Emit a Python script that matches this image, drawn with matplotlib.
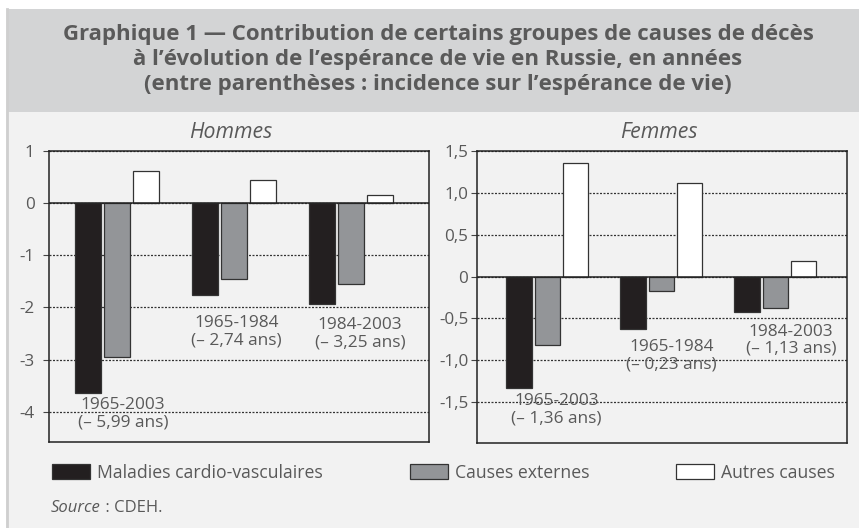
import matplotlib.pyplot as plt
from matplotlib.patches import Rectangle, Patch
from matplotlib.lines import Line2D

# --- données ---
causes = ['Maladies cardio-vasculaires', 'Causes externes', 'Autres causes']
periodes = ['1965-2003', '1965-1984', '1984-2003']

hommes_cardio = [-3.64, -1.76, -1.94]
hommes_externes = [-2.94, -1.45, -1.545]
hommes_autres = [0.606, 0.445, 0.158]
hommes_totaux = ['(– 5,99 ans)', '(– 2,74 ans)', '(– 3,25 ans)']

femmes_cardio = [-1.326, -0.63, -0.423]
femmes_externes = [-0.82, -0.173, -0.376]
femmes_autres = [1.35, 1.118, 0.185]
femmes_totaux = ['(– 1,36 ans)', '(– 0,23 ans)', '(– 1,13 ans)']

hommes_ticks = [1, 0, -1, -2, -3, -4]
hommes_ticklabels = ['1', '0', '-1', '-2', '-3', '-4']
femmes_ticks = [1.5, 1.0, 0.5, 0, -0.5, -1.0, -1.5]
femmes_ticklabels = ['1,5', '1,0', '0,5', '0', '-0,5', '-1,0', '-1,5']

couleurs = ['#231f20', '#939598', '#ffffff']
texte = '#595959'

W, H = 859, 528
plt.rcParams['font.family'] = ['Open Sans', 'DejaVu Sans']

fig = plt.figure(figsize=(W / 100, H / 100), dpi=100)
fig.patch.set_facecolor('white')

# fond du cadre et bandeau du titre
fig.patches.append(Rectangle((6 / W, 0), 1, 1 - 9 / H, transform=fig.transFigure,
                             facecolor='#f2f2f2', edgecolor='none', zorder=-10))
fig.patches.append(Rectangle((8 / W, 1 - 111.7 / H), 1, (111.7 - 9) / H, transform=fig.transFigure,
                             facecolor='#d3d4d5', edgecolor='none', zorder=-9))
fig.lines.append(Line2D([7 / W, 7 / W], [0, 1 - 9 / H], transform=fig.transFigure,
                        color='#cfcfcf', lw=2, zorder=-8))

fig.text(438 / W, 1 - 59.5 / H,
         'Graphique 1 — Contribution de certains groupes de causes de décès\n'
         'à l’évolution de l’espérance de vie en Russie, en années\n'
         '(entre parenthèses : incidence sur l’espérance de vie)',
         ha='center', va='center', fontsize=16, fontweight='bold', color='#5a5a5a',
         linespacing=1.24)


def panneau(ax, cardio, externes, autres, totaux, ticks, ticklabels, ylim, xlim,
            pos_labels, pad):
    x = list(range(len(periodes)))
    w = 0.222
    dx = 0.248
    for serie, col, k in zip([cardio, externes, autres], couleurs, [-1, 0, 1]):
        ax.bar([i + k * dx for i in x], serie, width=w, color=col,
               edgecolor='#333333', linewidth=0.9, zorder=2)
    ax.axhline(0, color='#222222', lw=1.1, zorder=3)
    ax.set_ylim(*ylim)
    ax.set_xlim(*xlim)
    ax.set_yticks(ticks)
    ax.set_yticklabels(ticklabels)
    ax.set_xticks([])
    ax.set_facecolor('#f2f2f2')
    ax.grid(axis='y', linestyle=(0, (1.6, 1.2)), color='#333333', lw=0.9)
    ax.set_axisbelow(True)
    ax.tick_params(axis='y', length=4.5, width=0.8, color='#444444', pad=pad,
                   labelsize=12.3, labelcolor=texte)
    for s in ax.spines.values():
        s.set_color('#222222')
        s.set_linewidth(1.1)
    for p, tot, (lx, ly) in zip(periodes, totaux, pos_labels):
        ax.text(lx, ly, p + '\n' + tot, ha='center', va='center', fontsize=12.4,
                color=texte, linespacing=1.12, zorder=4)


ax1 = fig.add_axes([49.3 / W, 1 - 442.3 / H, (429 - 49.3) / W, (442.3 - 150.7) / H])
panneau(ax1, hommes_cardio, hommes_externes, hommes_autres, hommes_totaux,
        hommes_ticks, hommes_ticklabels, (-4.58, 1), (-0.58, 2.67),
        [(0.05, -4.03), (1.02, -2.47), (2.08, -2.50)], 6)

ax2 = fig.add_axes([476.7 / W, 1 - 443 / H, (847 - 476.7) / W, (443 - 150.7) / H])
panneau(ax2, femmes_cardio, femmes_externes, femmes_autres, femmes_totaux,
        femmes_ticks, femmes_ticklabels, (-1.985, 1.5), (-0.62, 2.63),
        [(0.08, -1.586), (1.09, -0.95), (2.14, -0.76)], 1.5)

fig.text(231 / W, 1 - 133 / H, 'Hommes', ha='center', va='center', fontsize=15.3,
         style='italic', color=texte)
fig.text(659 / W, 1 - 133 / H, 'Femmes', ha='center', va='center', fontsize=15.3,
         style='italic', color=texte)

handles = [Patch(facecolor=c, edgecolor='#333333', linewidth=0.9) for c in couleurs]
leg = fig.legend(handles, causes, loc='center left', bbox_to_anchor=(52 / W, 1 - 472.7 / H),
                 ncol=3, frameon=False, fontsize=12.7, handlelength=2.15, handleheight=0.97,
                 handletextpad=0.4, columnspacing=4.93, borderpad=0, borderaxespad=0)
for t in leg.get_texts():
    t.set_color(texte)

src = fig.text(51 / W, 1 - 508 / H, 'Source', ha='left', va='center', fontsize=12,
               style='italic', color=texte)
ax1.annotate(' : CDEH.', xy=(1, 0.5), xycoords=src, ha='left', va='center',
             fontsize=12, color=texte)

fig.savefig('out.png', dpi=100, facecolor=fig.get_facecolor())
